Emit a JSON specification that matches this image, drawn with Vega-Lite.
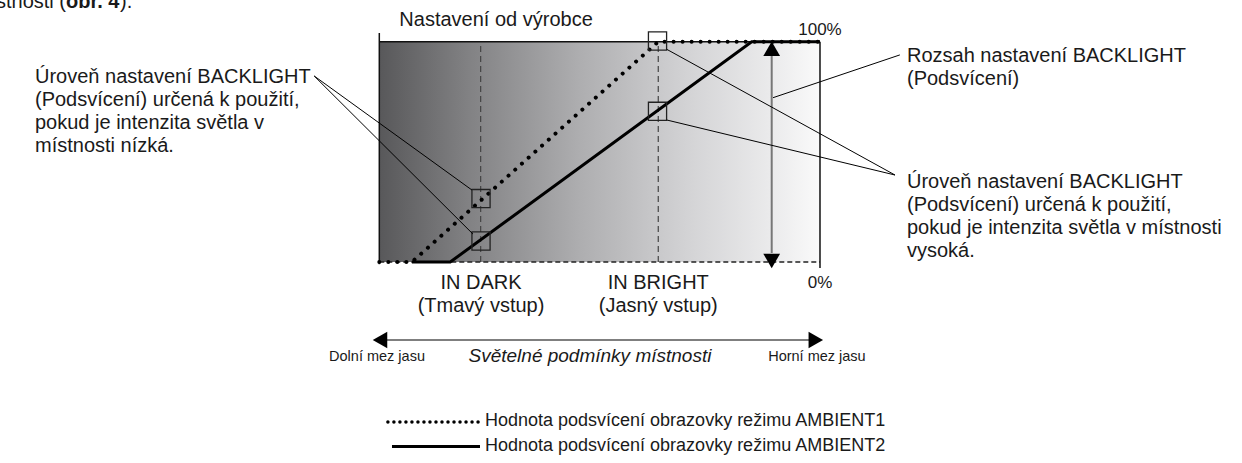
{
  "$schema": "https://vega.github.io/schema/vega-lite/v6.json",
  "width": 1242,
  "height": 463,
  "autosize": {"type": "none"},
  "padding": 0,
  "background": "white",
  "config": {"view": {"stroke": null}, "text": {"font": "Liberation Sans", "color": "#1a1a1a"}},
  "datasets": {
    "plot": [{"x": 0, "y": 0, "x2": 100, "y2": 100}],
    "marks": [{"x": 23.0, "y": 0, "x2": 23.0, "y2": 100}, {"x": 63.3, "y": 0, "x2": 63.3, "y2": 100}],
    "base": [{"x": 0, "y": 0, "x2": 100, "y2": 0}],
    "borders": [
      {"x": 0, "y": 100, "x2": 100, "y2": 100},
      {"x": 0, "y": 103.95, "x2": 0, "y2": -1},
      {"x": 100, "y": 100, "x2": 100, "y2": -2.72}
    ],
    "ambient2": [
      {"part": "curve", "x": 7.4, "y": 0}, {"part": "curve", "x": 16.1, "y": 0}, {"part": "curve", "x": 84.5, "y": 100}, {"part": "curve", "x": 100, "y": 100},
      {"part": "legend", "x": 2.88, "y": -83.75}, {"part": "legend", "x": 22.85, "y": -83.75}
    ],
    "ambient1": [
      {"x": 0, "y": 0}, {"x": 7.4, "y": 0}, {"x": 63.3, "y": 100}, {"x": 100, "y": 100}
    ],
    "ambient1Legend": [
      {"x": 1.95, "y": -72.63}, {"x": 22.85, "y": -72.63}
    ],
    "boxes": [{"x": 23.08, "y": 28.78}, {"x": 23.08, "y": 9.53}, {"x": 63.13, "y": 100.3}, {"x": 63.13, "y": 68.4}],
    "leaders": [
      {"x": -14.77, "y": 84.43, "x2": 21.01, "y2": 32.68},
      {"x": -14.77, "y": 84.43, "x2": 21.24, "y2": 12.71},
      {"x": 65.22, "y": 96.55, "x2": 117.02, "y2": 39.49},
      {"x": 65.22, "y": 64.46, "x2": 117.02, "y2": 39.49},
      {"x": 89.34, "y": 74.58, "x2": 118.12, "y2": 94.0}
    ],
    "range": [{"x": 89.04, "y": 93.96, "x2": 89.04, "y2": 4.09}],
    "scale": [{"x": 0.16, "y": -35.41, "x2": 99.05, "y2": -35.41}],
    "heads": [
      {"dir": "up", "x": 89.04, "y": 96.8},
      {"dir": "down", "x": 89.04, "y": 0.45},
      {"dir": "left", "x": 0.16, "y": -35.41},
      {"dir": "right", "x": 99.05, "y": -35.41}
    ],
    "leftTexts": [
      {"x": -78.13, "y": 83.98, "t": "Úroveň nastavení BACKLIGHT"},
      {"x": -78.13, "y": 73.54, "t": "(Podsvícení) určená k použití,"},
      {"x": -78.13, "y": 63.1, "t": "pokud je intenzita světla v"},
      {"x": -78.13, "y": 52.66, "t": "místnosti nízká."},
      {"x": 119.74, "y": 93.51, "t": "Rozsah nastavení BACKLIGHT"},
      {"x": 119.74, "y": 83.07, "t": "(Podsvícení)"},
      {"x": 119.74, "y": 36.31, "t": "Úroveň nastavení BACKLIGHT"},
      {"x": 119.74, "y": 25.87, "t": "(Podsvícení) určená k použití,"},
      {"x": 119.74, "y": 15.43, "t": "pokud je intenzita světla v místnosti"},
      {"x": 119.74, "y": 4.99, "t": "vysoká."}
    ],
    "legendTexts": [
      {"x": 23.98, "y": -72.17, "t": "Hodnota podsvícení obrazovky režimu AMBIENT1"},
      {"x": 23.98, "y": -83.52, "t": "Hodnota podsvícení obrazovky režimu AMBIENT2"}
    ],
    "centerTexts": [
      {"x": 26.5, "y": 109.85, "t": "Nastavení od výrobce"},
      {"x": 23.08, "y": -9.53, "t": "IN DARK"},
      {"x": 23.08, "y": -19.97, "t": "(Tmavý vstup)"},
      {"x": 63.3, "y": -9.53, "t": "IN BRIGHT"},
      {"x": 63.3, "y": -19.97, "t": "(Jasný vstup)"}
    ],
    "pctTexts": [{"x": 100, "y": 105.31, "t": "100%"}, {"x": 100, "y": -9.53, "t": "0%"}],
    "smallTexts": [{"x": -0.52, "y": -43.12, "t": "Dolní mez jasu"}, {"x": 99.3, "y": -43.12, "t": "Horní mez jasu"}],
    "italicTexts": [{"x": 47.8, "y": -42.67, "t": "Světelné podmínky místnosti"}],
    "topRegular": [{"x": -71.09, "y": 115.3, "t": "místnosti ("}],
    "topBold": [{"x": -71.09, "y": 115.3, "t": "obr. 4"}],
    "topEnd": [{"x": -58.83, "y": 115.3, "t": ")."}]
  },
  "encoding": {
    "x": {"field": "x", "type": "quantitative", "scale": {"domain": [-86.07, 195.76], "nice": false, "zero": false}, "axis": null},
    "y": {"field": "y", "type": "quantitative", "scale": {"domain": [-91.24, 118.93], "nice": false, "zero": false}, "axis": null}
  },
  "layer": [
    {
      "data": {"name": "plot"},
      "mark": {"type": "rect", "fill": {"gradient": "linear", "x1": 0, "y1": 0, "x2": 1, "y2": 0, "stops": [
        {"offset": 0, "color": "#58585a"},
        {"offset": 0.2, "color": "#818183"},
        {"offset": 0.45, "color": "#adadaf"},
        {"offset": 0.7, "color": "#d3d3d5"},
        {"offset": 0.9, "color": "#ececed"},
        {"offset": 1, "color": "#fafafa"}
      ]}},
      "encoding": {"x2": {"field": "x2"}, "y2": {"field": "y2"}}
    },
    {
      "data": {"name": "marks"},
      "mark": {"type": "rule", "color": "#444", "strokeWidth": 1.2, "strokeDash": [6, 4]},
      "encoding": {"x2": {"field": "x2"}, "y2": {"field": "y2"}}
    },
    {
      "data": {"name": "base"},
      "mark": {"type": "rule", "color": "#222", "strokeWidth": 1.5, "strokeDash": [5, 3]},
      "encoding": {"x2": {"field": "x2"}, "y2": {"field": "y2"}}
    },
    {
      "data": {"name": "borders"},
      "mark": {"type": "rule", "color": "#111", "strokeWidth": 1.5},
      "encoding": {"x2": {"field": "x2"}, "y2": {"field": "y2"}}
    },
    {
      "data": {"name": "range"},
      "mark": {"type": "rule", "color": "#777", "strokeWidth": 2},
      "encoding": {"x2": {"field": "x2"}, "y2": {"field": "y2"}}
    },
    {
      "data": {"name": "ambient2"},
      "mark": {"type": "line", "color": "#000", "strokeWidth": 3},
      "encoding": {"detail": {"field": "part"}}
    },
    {
      "data": {"name": "ambient1"},
      "mark": {"type": "line", "color": "#000", "strokeWidth": 4, "strokeDash": [0.01, 9], "strokeCap": "round"},
      "encoding": {}
    },
    {
      "data": {"name": "ambient1Legend"},
      "mark": {"type": "line", "color": "#000", "strokeWidth": 3.5, "strokeDash": [0.01, 6], "strokeCap": "round"},
      "encoding": {}
    },
    {
      "data": {"name": "boxes"},
      "mark": {"type": "point", "shape": "square", "filled": false, "size": 330, "stroke": "#222", "strokeWidth": 1.3, "opacity": 1}
    },
    {
      "data": {"name": "leaders"},
      "mark": {"type": "rule", "color": "#000", "strokeWidth": 1},
      "encoding": {"x2": {"field": "x2"}, "y2": {"field": "y2"}}
    },
    {
      "data": {"name": "scale"},
      "mark": {"type": "rule", "color": "#555", "strokeWidth": 1.5},
      "encoding": {"x2": {"field": "x2"}, "y2": {"field": "y2"}}
    },
    {
      "data": {"name": "heads"},
      "mark": {"type": "point", "filled": true, "size": 280, "color": "#000", "opacity": 1},
      "encoding": {"shape": {"field": "dir", "type": "nominal", "scale": {"domain": ["up", "down", "left", "right"], "range": ["triangle-up", "triangle-down", "triangle-left", "triangle-right"]}, "legend": null}}
    },
    {
      "data": {"name": "leftTexts"},
      "mark": {"type": "text", "align": "left", "baseline": "middle", "fontSize": 20},
      "encoding": {"text": {"field": "t"}}
    },
    {
      "data": {"name": "legendTexts"},
      "mark": {"type": "text", "align": "left", "baseline": "middle", "fontSize": 18},
      "encoding": {"text": {"field": "t"}}
    },
    {
      "data": {"name": "centerTexts"},
      "mark": {"type": "text", "align": "center", "baseline": "middle", "fontSize": 20},
      "encoding": {"text": {"field": "t"}}
    },
    {
      "data": {"name": "pctTexts"},
      "mark": {"type": "text", "align": "center", "baseline": "middle", "fontSize": 17},
      "encoding": {"text": {"field": "t"}}
    },
    {
      "data": {"name": "smallTexts"},
      "mark": {"type": "text", "align": "center", "baseline": "middle", "fontSize": 14.5},
      "encoding": {"text": {"field": "t"}}
    },
    {
      "data": {"name": "italicTexts"},
      "mark": {"type": "text", "align": "center", "baseline": "middle", "fontSize": 19, "fontStyle": "italic"},
      "encoding": {"text": {"field": "t"}}
    },
    {
      "data": {"name": "topRegular"},
      "mark": {"type": "text", "align": "right", "baseline": "alphabetic", "fontSize": 20},
      "encoding": {"text": {"field": "t"}}
    },
    {
      "data": {"name": "topBold"},
      "mark": {"type": "text", "align": "left", "baseline": "alphabetic", "fontSize": 20, "fontWeight": "bold"},
      "encoding": {"text": {"field": "t"}}
    },
    {
      "data": {"name": "topEnd"},
      "mark": {"type": "text", "align": "left", "baseline": "alphabetic", "fontSize": 20},
      "encoding": {"text": {"field": "t"}}
    }
  ]
}
